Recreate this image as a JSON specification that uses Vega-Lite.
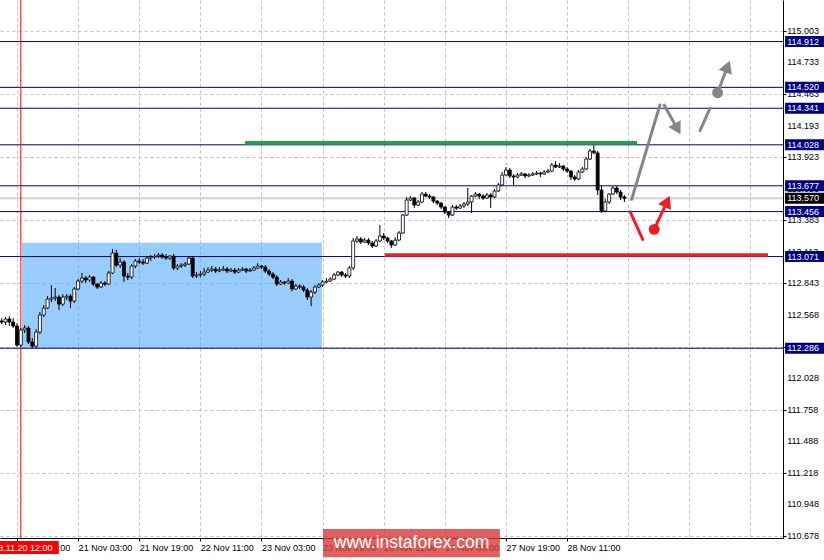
{
"$schema":"https://vega.github.io/schema/vega-lite/v6.json",
"width":783,"height":538,
"autosize":"none",
"padding":{"left":0,"top":0,"right":41,"bottom":22},
"background":"white",
"config":{"view":{"stroke":null},"font":"Liberation Sans","axis":{"labelFont":"Liberation Sans","labelFontSize":9,"labelColor":"#000000","title":null,"labelOverlap":false}},
"resolve":{"scale":{"color":"independent"}},
"datasets":{
"candles":[
{"i":-4,"o":112.519,"h":112.544,"l":112.493,"c":112.510},
{"i":-3,"o":112.510,"h":112.553,"l":112.484,"c":112.536},
{"i":-2,"o":112.536,"h":112.561,"l":112.476,"c":112.510},
{"i":-1,"o":112.510,"h":112.544,"l":112.459,"c":112.476},
{"i":0,"o":112.476,"h":112.501,"l":112.296,"c":112.313},
{"i":1,"o":112.313,"h":112.459,"l":112.296,"c":112.442},
{"i":2,"o":112.442,"h":112.484,"l":112.416,"c":112.459},
{"i":3,"o":112.459,"h":112.476,"l":112.322,"c":112.339},
{"i":4,"o":112.339,"h":112.373,"l":112.287,"c":112.304},
{"i":5,"o":112.304,"h":112.450,"l":112.287,"c":112.424},
{"i":6,"o":112.424,"h":112.596,"l":112.407,"c":112.570},
{"i":7,"o":112.570,"h":112.656,"l":112.553,"c":112.630},
{"i":8,"o":112.630,"h":112.733,"l":112.621,"c":112.707},
{"i":9,"o":112.707,"h":112.827,"l":112.681,"c":112.716},
{"i":10,"o":112.716,"h":112.801,"l":112.690,"c":112.724},
{"i":11,"o":112.724,"h":112.741,"l":112.613,"c":112.664},
{"i":12,"o":112.664,"h":112.750,"l":112.647,"c":112.724},
{"i":13,"o":112.724,"h":112.750,"l":112.699,"c":112.733},
{"i":14,"o":112.733,"h":112.750,"l":112.630,"c":112.690},
{"i":15,"o":112.690,"h":112.810,"l":112.673,"c":112.793},
{"i":16,"o":112.793,"h":112.878,"l":112.784,"c":112.861},
{"i":17,"o":112.861,"h":112.930,"l":112.844,"c":112.887},
{"i":18,"o":112.887,"h":112.904,"l":112.844,"c":112.870},
{"i":19,"o":112.870,"h":112.913,"l":112.853,"c":112.895},
{"i":20,"o":112.895,"h":112.904,"l":112.818,"c":112.835},
{"i":21,"o":112.835,"h":112.844,"l":112.793,"c":112.810},
{"i":22,"o":112.810,"h":112.861,"l":112.801,"c":112.844},
{"i":23,"o":112.844,"h":112.861,"l":112.818,"c":112.835},
{"i":24,"o":112.835,"h":112.947,"l":112.827,"c":112.930},
{"i":25,"o":112.930,"h":113.135,"l":112.921,"c":113.101},
{"i":26,"o":113.101,"h":113.127,"l":112.981,"c":112.998},
{"i":27,"o":112.998,"h":113.058,"l":112.973,"c":113.024},
{"i":28,"o":113.024,"h":113.041,"l":112.853,"c":112.904},
{"i":29,"o":112.904,"h":112.930,"l":112.870,"c":112.895},
{"i":30,"o":112.895,"h":113.007,"l":112.878,"c":112.990},
{"i":31,"o":112.990,"h":113.050,"l":112.973,"c":113.033},
{"i":32,"o":113.033,"h":113.058,"l":113.007,"c":113.024},
{"i":33,"o":113.024,"h":113.050,"l":112.998,"c":113.015},
{"i":34,"o":113.015,"h":113.075,"l":113.007,"c":113.058},
{"i":35,"o":113.058,"h":113.084,"l":113.033,"c":113.067},
{"i":36,"o":113.067,"h":113.093,"l":113.050,"c":113.075},
{"i":37,"o":113.075,"h":113.101,"l":113.058,"c":113.084},
{"i":38,"o":113.084,"h":113.101,"l":113.050,"c":113.067},
{"i":39,"o":113.067,"h":113.093,"l":113.041,"c":113.058},
{"i":40,"o":113.058,"h":113.084,"l":113.041,"c":113.075},
{"i":41,"o":113.075,"h":113.093,"l":112.955,"c":112.973},
{"i":42,"o":112.973,"h":113.007,"l":112.955,"c":112.990},
{"i":43,"o":112.990,"h":113.015,"l":112.973,"c":112.998},
{"i":44,"o":112.998,"h":113.024,"l":112.981,"c":113.007},
{"i":45,"o":113.007,"h":113.075,"l":112.998,"c":113.058},
{"i":46,"o":113.058,"h":113.067,"l":112.887,"c":112.904},
{"i":47,"o":112.904,"h":112.938,"l":112.887,"c":112.913},
{"i":48,"o":112.913,"h":112.947,"l":112.895,"c":112.921},
{"i":49,"o":112.921,"h":112.973,"l":112.904,"c":112.938},
{"i":50,"o":112.938,"h":112.981,"l":112.930,"c":112.955},
{"i":51,"o":112.955,"h":112.990,"l":112.938,"c":112.964},
{"i":52,"o":112.964,"h":112.981,"l":112.930,"c":112.947},
{"i":53,"o":112.947,"h":112.981,"l":112.938,"c":112.955},
{"i":54,"o":112.955,"h":112.990,"l":112.947,"c":112.964},
{"i":55,"o":112.964,"h":112.981,"l":112.930,"c":112.947},
{"i":56,"o":112.947,"h":112.973,"l":112.938,"c":112.955},
{"i":57,"o":112.955,"h":112.973,"l":112.921,"c":112.938},
{"i":58,"o":112.938,"h":112.973,"l":112.930,"c":112.955},
{"i":59,"o":112.955,"h":112.981,"l":112.947,"c":112.964},
{"i":60,"o":112.964,"h":112.973,"l":112.930,"c":112.947},
{"i":61,"o":112.947,"h":112.973,"l":112.938,"c":112.955},
{"i":62,"o":112.955,"h":112.990,"l":112.947,"c":112.973},
{"i":63,"o":112.973,"h":113.015,"l":112.964,"c":112.990},
{"i":64,"o":112.990,"h":112.998,"l":112.964,"c":112.981},
{"i":65,"o":112.981,"h":112.998,"l":112.930,"c":112.947},
{"i":66,"o":112.947,"h":112.964,"l":112.904,"c":112.921},
{"i":67,"o":112.921,"h":112.938,"l":112.878,"c":112.895},
{"i":68,"o":112.895,"h":112.913,"l":112.818,"c":112.835},
{"i":69,"o":112.835,"h":112.870,"l":112.827,"c":112.853},
{"i":70,"o":112.853,"h":112.861,"l":112.827,"c":112.844},
{"i":71,"o":112.844,"h":112.887,"l":112.835,"c":112.861},
{"i":72,"o":112.861,"h":112.878,"l":112.775,"c":112.793},
{"i":73,"o":112.793,"h":112.835,"l":112.784,"c":112.818},
{"i":74,"o":112.818,"h":112.835,"l":112.793,"c":112.810},
{"i":75,"o":112.810,"h":112.827,"l":112.767,"c":112.784},
{"i":76,"o":112.784,"h":112.801,"l":112.699,"c":112.724},
{"i":77,"o":112.724,"h":112.784,"l":112.647,"c":112.767},
{"i":78,"o":112.767,"h":112.827,"l":112.750,"c":112.810},
{"i":79,"o":112.810,"h":112.844,"l":112.801,"c":112.827},
{"i":80,"o":112.827,"h":112.870,"l":112.810,"c":112.853},
{"i":81,"o":112.853,"h":112.887,"l":112.844,"c":112.861},
{"i":82,"o":112.861,"h":112.895,"l":112.853,"c":112.878},
{"i":83,"o":112.878,"h":112.930,"l":112.870,"c":112.913},
{"i":84,"o":112.913,"h":112.947,"l":112.904,"c":112.938},
{"i":85,"o":112.938,"h":112.947,"l":112.895,"c":112.913},
{"i":86,"o":112.913,"h":112.930,"l":112.887,"c":112.904},
{"i":87,"o":112.904,"h":112.990,"l":112.887,"c":112.973},
{"i":88,"o":112.973,"h":113.230,"l":112.955,"c":113.204},
{"i":89,"o":113.204,"h":113.247,"l":113.187,"c":113.221},
{"i":90,"o":113.221,"h":113.238,"l":113.178,"c":113.195},
{"i":91,"o":113.195,"h":113.230,"l":113.187,"c":113.212},
{"i":92,"o":113.212,"h":113.230,"l":113.170,"c":113.187},
{"i":93,"o":113.187,"h":113.204,"l":113.144,"c":113.161},
{"i":94,"o":113.161,"h":113.221,"l":113.153,"c":113.204},
{"i":95,"o":113.204,"h":113.341,"l":113.195,"c":113.247},
{"i":96,"o":113.247,"h":113.273,"l":113.212,"c":113.230},
{"i":97,"o":113.230,"h":113.238,"l":113.187,"c":113.204},
{"i":98,"o":113.204,"h":113.212,"l":113.144,"c":113.170},
{"i":99,"o":113.170,"h":113.238,"l":113.161,"c":113.212},
{"i":100,"o":113.212,"h":113.290,"l":113.204,"c":113.273},
{"i":101,"o":113.273,"h":113.435,"l":113.264,"c":113.426},
{"i":102,"o":113.426,"h":113.581,"l":113.418,"c":113.555},
{"i":103,"o":113.555,"h":113.589,"l":113.546,"c":113.572},
{"i":104,"o":113.572,"h":113.581,"l":113.486,"c":113.512},
{"i":105,"o":113.512,"h":113.555,"l":113.504,"c":113.538},
{"i":106,"o":113.538,"h":113.624,"l":113.529,"c":113.606},
{"i":107,"o":113.606,"h":113.624,"l":113.581,"c":113.589},
{"i":108,"o":113.589,"h":113.606,"l":113.564,"c":113.581},
{"i":109,"o":113.581,"h":113.589,"l":113.529,"c":113.546},
{"i":110,"o":113.546,"h":113.555,"l":113.512,"c":113.529},
{"i":111,"o":113.529,"h":113.538,"l":113.478,"c":113.495},
{"i":112,"o":113.495,"h":113.504,"l":113.435,"c":113.452},
{"i":113,"o":113.452,"h":113.461,"l":113.401,"c":113.426},
{"i":114,"o":113.426,"h":113.512,"l":113.418,"c":113.495},
{"i":115,"o":113.495,"h":113.512,"l":113.469,"c":113.486},
{"i":116,"o":113.486,"h":113.521,"l":113.478,"c":113.504},
{"i":117,"o":113.504,"h":113.538,"l":113.486,"c":113.521},
{"i":118,"o":113.521,"h":113.658,"l":113.504,"c":113.538},
{"i":119,"o":113.538,"h":113.598,"l":113.444,"c":113.589},
{"i":120,"o":113.589,"h":113.624,"l":113.581,"c":113.606},
{"i":121,"o":113.606,"h":113.615,"l":113.564,"c":113.589},
{"i":122,"o":113.589,"h":113.606,"l":113.555,"c":113.572},
{"i":123,"o":113.572,"h":113.615,"l":113.564,"c":113.598},
{"i":124,"o":113.598,"h":113.615,"l":113.486,"c":113.581},
{"i":125,"o":113.581,"h":113.649,"l":113.572,"c":113.632},
{"i":126,"o":113.632,"h":113.701,"l":113.624,"c":113.684},
{"i":127,"o":113.684,"h":113.795,"l":113.675,"c":113.769},
{"i":128,"o":113.769,"h":113.838,"l":113.761,"c":113.812},
{"i":129,"o":113.812,"h":113.829,"l":113.743,"c":113.761},
{"i":130,"o":113.761,"h":113.778,"l":113.684,"c":113.752},
{"i":131,"o":113.752,"h":113.786,"l":113.743,"c":113.769},
{"i":132,"o":113.769,"h":113.795,"l":113.761,"c":113.778},
{"i":133,"o":113.778,"h":113.786,"l":113.743,"c":113.761},
{"i":134,"o":113.761,"h":113.786,"l":113.752,"c":113.769},
{"i":135,"o":113.769,"h":113.795,"l":113.761,"c":113.778},
{"i":136,"o":113.778,"h":113.803,"l":113.769,"c":113.786},
{"i":137,"o":113.786,"h":113.795,"l":113.752,"c":113.778},
{"i":138,"o":113.778,"h":113.812,"l":113.769,"c":113.795},
{"i":139,"o":113.795,"h":113.821,"l":113.786,"c":113.803},
{"i":140,"o":113.803,"h":113.872,"l":113.795,"c":113.855},
{"i":141,"o":113.855,"h":113.889,"l":113.829,"c":113.838},
{"i":142,"o":113.838,"h":113.872,"l":113.829,"c":113.846},
{"i":143,"o":113.846,"h":113.855,"l":113.803,"c":113.821},
{"i":144,"o":113.821,"h":113.838,"l":113.786,"c":113.803},
{"i":145,"o":113.803,"h":113.812,"l":113.726,"c":113.752},
{"i":146,"o":113.752,"h":113.769,"l":113.718,"c":113.735},
{"i":147,"o":113.735,"h":113.812,"l":113.726,"c":113.795},
{"i":148,"o":113.795,"h":113.838,"l":113.786,"c":113.821},
{"i":149,"o":113.821,"h":113.924,"l":113.812,"c":113.906},
{"i":150,"o":113.906,"h":113.992,"l":113.898,"c":113.975},
{"i":151,"o":113.975,"h":114.026,"l":113.949,"c":113.958},
{"i":152,"o":113.958,"h":113.975,"l":113.598,"c":113.641},
{"i":153,"o":113.641,"h":113.684,"l":113.444,"c":113.461},
{"i":154,"o":113.461,"h":113.564,"l":113.452,"c":113.538},
{"i":155,"o":113.538,"h":113.615,"l":113.521,"c":113.606},
{"i":156,"o":113.606,"h":113.675,"l":113.598,"c":113.658},
{"i":157,"o":113.658,"h":113.675,"l":113.606,"c":113.624},
{"i":158,"o":113.624,"h":113.641,"l":113.555,"c":113.581},
{"i":159,"o":113.581,"h":113.598,"l":113.538,"c":113.570}
],
"levels":[
{"v":114.912,"kind":"level"},{"v":114.520,"kind":"level"},{"v":114.341,"kind":"level"},{"v":114.028,"kind":"level"},
{"v":113.677,"kind":"level"},{"v":113.456,"kind":"level"},{"v":113.071,"kind":"level"},{"v":112.286,"kind":"level"},
{"v":113.570,"kind":"price"}
],
"yticks":[{"v":115.003},{"v":114.733},{"v":114.463},{"v":114.193},{"v":113.923},{"v":113.653},{"v":113.383},{"v":113.113},{"v":112.843},{"v":112.568},{"v":112.298},{"v":112.028},{"v":111.758},{"v":111.488},{"v":111.218},{"v":110.948},{"v":110.678}],
"segments":[
{"x":160.9,"y":113.561,"x2":168.3,"y2":114.369,"s":"alt"},
{"x":169.4,"y":114.369,"x2":172.9,"y2":114.164,"s":"alt"},
{"x":178.8,"y":114.149,"x2":181.4,"y2":114.340,"s":"alt"},
{"x":183.4,"y":114.474,"x2":186.0,"y2":114.698,"s":"alt"},
{"x":160.5,"y":113.455,"x2":163.8,"y2":113.218,"s":"main"},
{"x":166.8,"y":113.304,"x2":170.2,"y2":113.543,"s":"main"}
],
"dots":[{"x":183.4,"y":114.474,"s":"alt"},{"x":166.8,"y":113.304,"s":"main"}],
"heads":[
{"x":172.9,"y":114.164,"s":"alt","heading":151},
{"x":186.0,"y":114.698,"s":"alt","heading":21},
{"x":170.2,"y":113.543,"s":"main","heading":25}
],
"zones":[
{"from":1.3,"to":79.8,"lo":112.286,"hi":113.19}
],
"trend":[
{"from":59.7,"to":162.3,"v":114.045,"s":"resistance"},
{"from":96.3,"to":196.6,"v":113.084,"s":"support"}
],
"cursor":[{"i":1,"v":110.579,"label":"2018.11.20 12:00"}],
"mark":[{"from":80.1,"to":126.4,"lo":110.497,"hi":110.737,"mid":103.3,"v":110.617,"label":"www.instaforex.com"}]
},
"layer":[
{
"data":{"name":"zones"},
"mark":{"type":"rect","fill":"#55aaff","opacity":0.6},
"encoding":{
"x":{"field":"from","type":"quantitative","scale":{"domain":[-4.45,200.52],"nice":false,"zero":false,"padding":0},
"axis":{"orient":"bottom","values":[0,8,16,24,32,40,48,56,64,72,80,88,96,104,112,120,128,136,144,152,160,168,176,184,192,200],
"labelExpr":"datum.value==0?'20 Nov 11:00':datum.value==16?'21 Nov 03:00':datum.value==32?'21 Nov 19:00':datum.value==48?'22 Nov 11:00':datum.value==64?'23 Nov 03:00':datum.value==80?'23 Nov 19:00':datum.value==96?'26 Nov 11:00':datum.value==112?'27 Nov 03:00':datum.value==128?'27 Nov 19:00':datum.value==144?'28 Nov 11:00':''",
"labelAlign":"left","labelBaseline":"top","labelPadding":2,"labelFlush":false,"labelOverlap":false,"labelBound":false,
"tickSize":3,"tickColor":"#000000","tickOpacity":{"condition":{"test":"datum.value % 16 === 0 && datum.value <= 144","value":1},"value":0},
"domainColor":"#000000","domainWidth":1,
"grid":true,"gridColor":"#c0c0c0","gridDash":[3,3],"gridWidth":1}},
"x2":{"field":"to"},
"y":{"field":"lo","type":"quantitative","scale":{"domain":[110.661,115.268],"nice":false,"zero":false,"padding":0},
"axis":{"orient":"right","values":[115.003,114.733,114.463,114.193,113.923,113.653,113.383,113.113,112.843,112.568,112.298,112.028,111.758,111.488,111.218,110.948,110.678],
"labels":false,"tickSize":3,"tickColor":"#000000",
"domainColor":"#000000","domainWidth":1,"grid":true,"gridColor":"#c0c0c0","gridDash":[3,3],"gridWidth":1}},
"y2":{"field":"hi"}
}
},
{
"data":{"name":"levels"},
"transform":[{"filter":"datum.kind=='price'"}],
"mark":{"type":"rule","color":"#d0d0d0","strokeWidth":2},
"encoding":{"y":{"field":"v","type":"quantitative"}}
},
{
"data":{"name":"levels"},
"transform":[{"filter":"datum.kind=='level'"}],
"mark":{"type":"rule","color":"#000080","strokeWidth":1},
"encoding":{"y":{"field":"v","type":"quantitative"}}
},
{
"data":{"name":"cursor"},
"mark":{"type":"rule","color":"#ff0000","strokeWidth":1},
"encoding":{"x":{"field":"i","type":"quantitative"}}
},
{
"data":{"name":"trend"},
"mark":{"type":"rule","strokeWidth":3.5},
"encoding":{
"x":{"field":"from","type":"quantitative"},"x2":{"field":"to"},
"y":{"field":"v","type":"quantitative"},
"color":{"field":"s","type":"nominal","scale":{"domain":["resistance","support"],"range":["#24a04a","#ee2024"]},"legend":null}
}
},
{
"data":{"name":"candles"},
"mark":{"type":"rule","color":"#000000","strokeWidth":1},
"encoding":{"x":{"field":"i","type":"quantitative"},"y":{"field":"l","type":"quantitative"},"y2":{"field":"h"}}
},
{
"data":{"name":"candles"},
"mark":{"type":"bar","size":3,"stroke":"#000000","strokeWidth":0.8},
"encoding":{"x":{"field":"i","type":"quantitative"},"y":{"field":"o","type":"quantitative"},"y2":{"field":"c"},
"fill":{"condition":{"test":"datum.c >= datum.o","value":"#ffffff"},"value":"#000000"}}
},
{
"data":{"name":"segments"},
"mark":{"type":"rule","strokeWidth":3,"strokeCap":"round"},
"encoding":{"x":{"field":"x","type":"quantitative"},"x2":{"field":"x2"},"y":{"field":"y","type":"quantitative"},"y2":{"field":"y2"},
"color":{"field":"s","type":"nominal","scale":{"domain":["alt","main"],"range":["#858585","#ee1d25"]},"legend":null}}
},
{
"data":{"name":"dots"},
"mark":{"type":"point","filled":true,"opacity":1,"size":120},
"encoding":{"x":{"field":"x","type":"quantitative"},"y":{"field":"y","type":"quantitative"},
"color":{"field":"s","type":"nominal","scale":{"domain":["alt","main"],"range":["#858585","#ee1d25"]},"legend":null}}
},
{
"data":{"name":"heads"},
"mark":{"type":"point","shape":"triangle-up","filled":true,"opacity":1,"size":200},
"encoding":{"x":{"field":"x","type":"quantitative"},"y":{"field":"y","type":"quantitative"},
"angle":{"field":"heading","type":"quantitative","scale":null},
"color":{"field":"s","type":"nominal","scale":{"domain":["alt","main"],"range":["#858585","#ee1d25"]},"legend":null}}
},
{
"data":{"name":"yticks"},
"mark":{"type":"text","color":"#000000","align":"left","baseline":"middle","fontSize":9,"font":"Liberation Sans"},
"encoding":{"x":{"datum":201.6,"type":"quantitative"},"y":{"field":"v","type":"quantitative"},"text":{"field":"v","format":".3f"}}
},
{
"data":{"name":"levels"},
"mark":{"type":"tick","orient":"horizontal","size":40,"thickness":11,"opacity":1},
"encoding":{"x":{"datum":206.3,"type":"quantitative"},"y":{"field":"v","type":"quantitative"},
"color":{"field":"kind","type":"nominal","scale":{"domain":["level","price"],"range":["#000080","#000000"]},"legend":null}}
},
{
"data":{"name":"levels"},
"mark":{"type":"text","color":"#ffffff","align":"left","baseline":"middle","fontSize":9,"font":"Liberation Sans"},
"encoding":{"x":{"datum":201.6,"type":"quantitative"},"y":{"field":"v","type":"quantitative"},"text":{"field":"v","format":".3f"}}
},
{
"data":{"name":"cursor"},
"mark":{"type":"tick","orient":"horizontal","size":76,"thickness":13,"color":"#ff0000","opacity":1},
"encoding":{"x":{"field":"i","type":"quantitative"},"y":{"field":"v","type":"quantitative"}}
},
{
"data":{"name":"cursor"},
"mark":{"type":"text","color":"#ffffff","align":"center","baseline":"middle","fontSize":9,"font":"Liberation Sans","dx":-3},
"encoding":{"x":{"field":"i","type":"quantitative"},"y":{"field":"v","type":"quantitative"},"text":{"field":"label"}}
},
{
"data":{"name":"mark"},
"mark":{"type":"rect","fill":"#d93a3a","opacity":0.8},
"encoding":{"x":{"field":"from","type":"quantitative"},"x2":{"field":"to"},"y":{"field":"lo","type":"quantitative"},"y2":{"field":"hi"}}
},
{
"data":{"name":"mark"},
"mark":{"type":"text","color":"#ffffff","align":"center","baseline":"middle","fontSize":17.5,"font":"Liberation Sans"},
"encoding":{"x":{"field":"mid","type":"quantitative"},"y":{"field":"v","type":"quantitative"},"text":{"field":"label"}}
}
]
}
